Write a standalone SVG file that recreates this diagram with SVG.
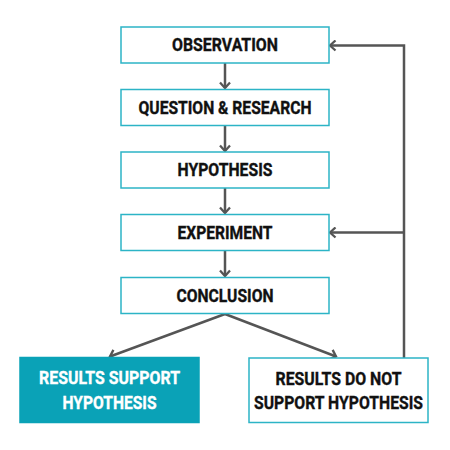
<svg xmlns="http://www.w3.org/2000/svg" width="450" height="450" viewBox="0 0 450 450">
<style>
.box{fill:#fff;stroke:#2cb4c6;stroke-width:1.5}
.fbox{fill:#0aa2b7;stroke:#0aa2b7;stroke-width:1.5}
.t{font-family:Roboto,"Liberation Sans",sans-serif;font-weight:bold;font-size:17.5px;fill:#111;stroke:#111;stroke-width:0.35;text-anchor:middle}
.w{fill:#fff;stroke:#fff}
.c{fill:none;stroke:#555;stroke-width:2.5}
</style>
<defs>
<marker id="a" markerUnits="userSpaceOnUse" viewBox="-8 -6 10 12" refX="0" refY="0" markerWidth="10" markerHeight="12" orient="auto">
<path d="M-5.5,-5 L0,0 L-5.5,5" fill="none" stroke="#555" stroke-width="2.3"/>
</marker>
</defs>
<rect width="450" height="450" fill="#fff"/>
<g id="connectors">
<line class="c" x1="225" y1="63" x2="225" y2="88" marker-end="url(#a)"/>
<line class="c" x1="225" y1="126" x2="225" y2="151" marker-end="url(#a)"/>
<line class="c" x1="225" y1="188" x2="225" y2="213" marker-end="url(#a)"/>
<line class="c" x1="225" y1="251" x2="225" y2="276" marker-end="url(#a)"/>
<line class="c" x1="225" y1="314" x2="110" y2="356.5" marker-end="url(#a)"/>
<line class="c" x1="225" y1="314" x2="336" y2="356.5" marker-end="url(#a)"/>
<polyline class="c" points="404,358 404,45.5 330,45.5" marker-end="url(#a)"/>
<line class="c" x1="404" y1="232.5" x2="330" y2="232.5" marker-end="url(#a)"/>
</g>
<g id="observation">
<rect class="box" x="121" y="27" width="208" height="36"/>
<text class="t" x="225" y="51" textLength="106" lengthAdjust="spacingAndGlyphs">OBSERVATION</text>
</g>
<g id="question">
<rect class="box" x="121" y="89.5" width="208" height="36"/>
<text class="t" x="225" y="113.5" textLength="173" lengthAdjust="spacingAndGlyphs">QUESTION &amp; RESEARCH</text>
</g>
<g id="hypothesis">
<rect class="box" x="121" y="152" width="208" height="36"/>
<text class="t" x="225" y="176" textLength="95" lengthAdjust="spacingAndGlyphs">HYPOTHESIS</text>
</g>
<g id="experiment">
<rect class="box" x="121" y="214.5" width="208" height="36"/>
<text class="t" x="225" y="238.5" textLength="95" lengthAdjust="spacingAndGlyphs">EXPERIMENT</text>
</g>
<g id="conclusion">
<rect class="box" x="121" y="277.5" width="208" height="36"/>
<text class="t" x="225" y="301.5" textLength="97" lengthAdjust="spacingAndGlyphs">CONCLUSION</text>
</g>
<g id="support">
<rect class="fbox" x="20" y="357.5" width="179" height="65"/>
<text class="t w" x="109.5" y="383.5" textLength="141" lengthAdjust="spacingAndGlyphs">RESULTS SUPPORT</text>
<text class="t w" x="109.5" y="408.5" textLength="94" lengthAdjust="spacingAndGlyphs">HYPOTHESIS</text>
</g>
<g id="notsupport">
<rect class="box" x="249" y="358" width="179" height="64.5"/>
<text class="t" x="338.5" y="384.5" textLength="126" lengthAdjust="spacingAndGlyphs">RESULTS DO NOT</text>
<text class="t" x="338.5" y="408.5" textLength="169" lengthAdjust="spacingAndGlyphs">SUPPORT HYPOTHESIS</text>
</g>
</svg>
